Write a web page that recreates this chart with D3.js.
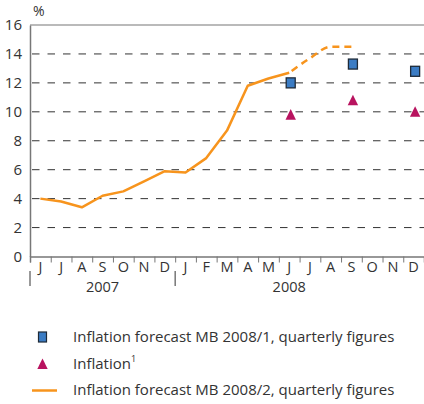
<!DOCTYPE html>
<html><head><meta charset="utf-8">
<script src="https://cdn.jsdelivr.net/npm/d3@7"></script>
<style>
html,body{margin:0;padding:0;background:#fff;}
svg{display:block;font-family:"Open Sans",sans-serif;}
</style></head>
<body>
<svg id="chart" width="424" height="404"></svg>
<script>
const months = ["J","J","A","S","O","N","D","J","F","M","A","M","J","J","A","S","O","N","D"];
const years = [{label:"2007", start:0, end:7, labelAt:3}, {label:"2008", start:7, end:19, labelAt:12}];
const yTicks = [0,2,4,6,8,10,12,14,16];
// Inflation forecast MB 2008/2 (monthly index in months array)
const forecast2Actual = [4.0,3.8,3.4,4.2,4.5,5.2,5.9,5.8,6.8,8.7,11.8,12.3,12.7]; // Jun07..Jun08
const forecast2Proj = [12.7,13.7,14.5,14.5]; // Jun08..Sep08
const forecast2ProjStart = 12;
// Inflation forecast MB 2008/1 quarterly
const forecast1Idx = [12,15,18];
const forecast1Vals = [12.0,13.3,12.8];
// Inflation
const inflIdx = [12,15,18];
const inflVals = [9.8,10.8,10.0];
const legendLabels = ["Inflation forecast MB 2008/1, quarterly figures","Inflation","Inflation forecast MB 2008/2, quarterly figures"];

const orange="#f7941d", blue="#3b7cc4", magenta="#b8135f", textCol="#333";
const svg=d3.select("#chart");
const x=d3.scaleLinear().domain([0,months.length]).range([30,424]);
const xc=i=>x(i+0.5);
const y=d3.scaleLinear().domain([0,16]).range([256.5,25]);

// gridlines
svg.append("g").selectAll("line").data(yTicks.filter(v=>v>0&&v<16)).join("line")
 .attr("x1",x(0)).attr("x2",424).attr("y1",d=>y(d)).attr("y2",d=>y(d))
 .attr("stroke","#333").attr("stroke-width",1).attr("stroke-dasharray","7.5,8").attr("stroke-dashoffset",-2);
// top line
svg.append("line").attr("x1",x(0)).attr("x2",424).attr("y1",y(16)).attr("y2",y(16)).attr("stroke","#777").attr("stroke-width",1.2);

// y axis
const ya=svg.append("g").attr("transform",`translate(${x(0)},0)`).call(d3.axisLeft(y).tickValues(yTicks).tickSize(0).tickPadding(8));
ya.select(".domain").attr("stroke","#777").attr("stroke-width",1.5);
ya.selectAll("text").attr("font-size",15).attr("fill",textCol).attr("font-family","Open Sans");
svg.append("text").attr("x",33).attr("y",16).attr("font-size",14).attr("fill",textCol).text("%");

// x axis
const xa=svg.append("g").attr("transform",`translate(0,${y(0)})`)
 .call(d3.axisBottom(x).tickValues(d3.range(0,months.length)).tickSize(6).tickFormat(""));
xa.select(".domain").attr("stroke","#777").attr("stroke-width",1.5);
xa.selectAll(".tick line").attr("stroke","#777");
svg.append("g").selectAll("text").data(months).join("text")
 .attr("x",(d,i)=>xc(i)).attr("y",271.5).attr("text-anchor","middle")
 .attr("font-size",14.5).attr("fill",textCol).text(d=>d);
// year separators + labels
svg.append("g").selectAll("line").data(years).join("line")
 .attr("x1",d=>x(d.start)).attr("x2",d=>x(d.start)).attr("y1",271).attr("y2",286)
 .attr("stroke","#555").attr("stroke-width",1.2);
svg.append("g").selectAll("text").data(years).join("text")
 .attr("x",d=>xc(d.labelAt)).attr("y",292).attr("text-anchor","middle")
 .attr("font-size",14.5).attr("fill",textCol).text(d=>d.label);

// lines
const lineLin=d3.line().x(d=>xc(d[0])).y(d=>y(d[1]));
const lineCurve=d3.line().x(d=>xc(d[0])).y(d=>y(d[1])).curve(d3.curveMonotoneX);
svg.append("path").datum(forecast2Actual.map((v,i)=>[i,v])).attr("d",lineLin)
 .attr("fill","none").attr("stroke",orange).attr("stroke-width",2.5).attr("stroke-linejoin","round");
svg.append("path").datum(forecast2Proj.map((v,i)=>[i+forecast2ProjStart,v])).attr("d",lineCurve)
 .attr("fill","none").attr("stroke",orange).attr("stroke-width",2.5).attr("stroke-dasharray","7,5").attr("stroke-dashoffset",-3);

// squares
const sq=9, sqh=10;
svg.append("g").selectAll("rect").data(forecast1Idx.map((d,i)=>[d,forecast1Vals[i]])).join("rect")
 .attr("x",d=>xc(d[0])-sq/2+1.5).attr("y",d=>y(d[1])-sqh/2).attr("width",sq).attr("height",sqh)
 .attr("fill",blue).attr("stroke","#1e2a38").attr("stroke-width",1.3);
// triangles (10 wide, 10.5 tall)
const triPath="M0,-5.6L5.2,5L-5.2,5Z";
svg.append("g").selectAll("path").data(inflIdx.map((d,i)=>[d,inflVals[i]])).join("path")
 .attr("d",triPath).attr("transform",d=>`translate(${xc(d[0])+1.5},${y(d[1])})`).attr("fill",magenta);

// legend
const lg=svg.append("g");
lg.append("rect").attr("x",38.5).attr("y",332).attr("width",8).attr("height",10).attr("fill",blue).attr("stroke","#1e2a38").attr("stroke-width",1.2);
lg.append("path").attr("d",triPath).attr("transform","translate(42.5,364)").attr("fill",magenta);
lg.append("line").attr("x1",32).attr("x2",57).attr("y1",390.5).attr("y2",390.5).attr("stroke",orange).attr("stroke-width",2.5);
const lt=lg.selectAll("text").data(legendLabels).join("text")
 .attr("x",73).attr("y",(d,i)=>342+i*26.5).attr("font-size",15).attr("fill",textCol).text(d=>d);
lt.filter((d,i)=>i===1).append("tspan").attr("font-size",9).attr("dy",-7).text("1");
</script>
</body></html>
